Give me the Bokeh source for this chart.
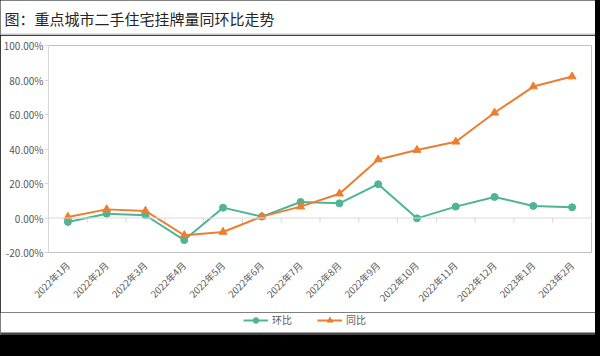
import numpy as np
from bokeh.plotting import figure
from bokeh.models import (Range1d, FixedTicker, PrintfTickFormatter, Span, Label, BoxAnnotation,
                          Legend, LegendItem, ColumnDataSource)
from bokeh.layouts import column
from bokeh.embed import file_html
from bokeh.resources import INLINE

# ---- data ----
categories = ["2022年1月", "2022年2月", "2022年3月", "2022年4月", "2022年5月", "2022年6月",
              "2022年7月", "2022年8月", "2022年9月", "2022年10月", "2022年11月", "2022年12月",
              "2023年1月", "2023年2月"]
mom = [-2.3, 2.5, 1.6, -12.8, 6.0, 0.8, 9.3, 8.5, 19.6, -0.2, 6.6, 12.2, 7.0, 6.2]      # 环比
yoy = [0.6, 5.0, 4.1, -10.0, -8.1, 0.8, 6.6, 14.1, 33.9, 39.4, 44.2, 61.0, 76.2, 82.0]  # 同比
series_names = ["环比", "同比"]
y_ticks = [-20, 0, 20, 40, 60, 80, 100]
title_text = "图：重点城市二手住宅挂牌量同环比走势"

GREEN = "#4db596"
ORANGE = "#ee7d31"
FONT = "Noto Sans CJK SC"
AX = "#d9d9d9"
LBL = "#595959"
W = 595


def no_align(f):
    try:
        f.frame_align = False
    except Exception:
        pass


def bare(h, xr=(0, 1)):
    f = figure(width=W, height=h, x_range=Range1d(*xr), y_range=Range1d(0, 1),
               x_axis_location=None, y_axis_location=None, min_border=0,
               output_backend="svg", toolbar_location=None)
    f.grid.visible = False
    f.outline_line_color = None
    no_align(f)
    return f


def band(bottom, top, color):
    return BoxAnnotation(left=0, right=W, bottom=bottom, top=top,
                         left_units="screen", right_units="screen",
                         bottom_units="screen", top_units="screen",
                         fill_color=color, fill_alpha=1, line_color=None)


# ---- header: title + separator ----
header = bare(35)
header.add_layout(Label(x=4, y=17, x_units="screen", y_units="screen", text=title_text,
                        text_font=FONT, text_font_size="15px", text_color="#262626",
                        text_baseline="middle"))
header.add_layout(band(0, 2, "#c8c8c8"))

# ---- main chart ----
n = len(categories)
xs = np.arange(n) + 0.5
src = ColumnDataSource(dict(x=xs, mom=mom, yoy=yoy))

p = figure(width=W, height=277, x_range=Range1d(0, n), y_range=Range1d(-20, 100),
           output_backend="svg", toolbar_location=None,
           min_border_left=45, min_border_right=4, min_border_top=10, min_border_bottom=60)
p.outline_line_color = None
p.grid.visible = False
no_align(p)

p.add_layout(Span(location=0, dimension="width", line_color=AX, line_width=1))
bounds = np.arange(n + 1)
p.segment(x0=bounds, y0=np.zeros(n + 1), x1=bounds, y1=np.full(n + 1, -2.9),
          line_color=AX, line_width=1)

p.line("x", "mom", source=src, line_color=GREEN, line_width=2)
p.scatter("x", "mom", source=src, marker="circle", size=7, fill_color=GREEN, line_color=GREEN)
p.line("x", "yoy", source=src, line_color=ORANGE, line_width=2)
p.scatter("x", "yoy", source=src, marker="triangle", size=8, fill_color=ORANGE, line_color=ORANGE)

p.yaxis.ticker = FixedTicker(ticks=y_ticks)
p.yaxis.formatter = PrintfTickFormatter(format="%.2f%%")
p.yaxis.axis_line_color = AX
p.yaxis.major_tick_line_color = AX
p.yaxis.major_tick_out = 4
p.yaxis.major_tick_in = 0
p.yaxis.minor_tick_line_color = None
p.yaxis.major_label_standoff = 1
p.yaxis.major_label_text_font = FONT
p.yaxis.major_label_text_font_size = "10px"
p.yaxis.major_label_text_color = LBL

p.xaxis.ticker = FixedTicker(ticks=list(xs))
p.xaxis.major_label_overrides = {float(x): c for x, c in zip(xs, categories)}
p.xaxis.major_label_orientation = np.pi / 4
p.xaxis.axis_line_color = None
p.xaxis.major_tick_line_color = None
p.xaxis.minor_tick_line_color = None
p.xaxis.major_label_standoff = 5
p.xaxis.major_label_text_font = FONT
p.xaxis.major_label_text_font_size = "9.5px"
p.xaxis.major_label_text_color = LBL

# ---- legend strip (its series are drawn out of view; only the legend shows) ----
lf = bare(23, xr=(1000, 1001))
g1 = lf.line("x", "mom", source=src, line_color=GREEN, line_width=2)
m1 = lf.scatter("x", "mom", source=src, marker="circle", size=7, fill_color=GREEN, line_color=GREEN)
g2 = lf.line("x", "yoy", source=src, line_color=ORANGE, line_width=2)
m2 = lf.scatter("x", "yoy", source=src, marker="triangle", size=8, fill_color=ORANGE, line_color=ORANGE)
legend = Legend(items=[LegendItem(label=series_names[0], renderers=[g1, m1]),
                       LegendItem(label=series_names[1], renderers=[g2, m2])],
                orientation="horizontal", location=(243, 8),
                border_line_color=None, background_fill_alpha=0,
                label_text_font=FONT, label_text_font_size="10px", label_text_color=LBL,
                glyph_width=25, glyph_height=14, label_height=14,
                label_standoff=4, spacing=25, padding=0, margin=0)
lf.add_layout(legend)
lf.add_layout(band(0, 3, "#444444"))

layout = column(header, p, lf, spacing=0, width=600, height=356,
                styles={"background-color": "#000000"})

open("out.html", "w").write(file_html(layout, INLINE))
